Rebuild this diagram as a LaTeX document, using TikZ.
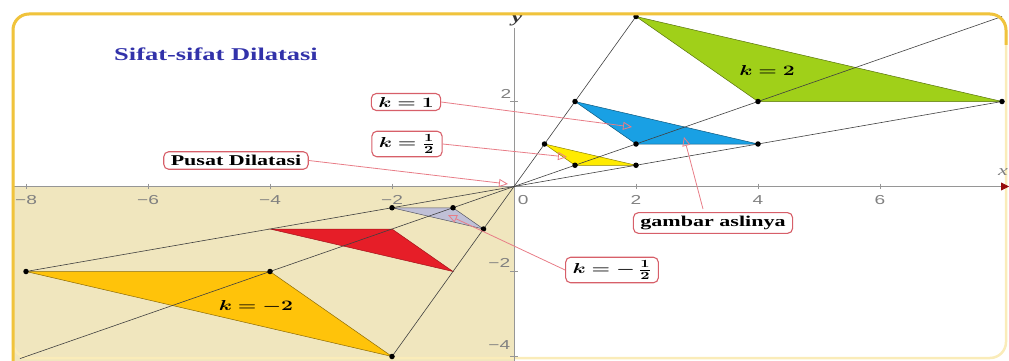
\documentclass[tikz,border=0pt]{standalone}
\usepackage{fontspec}
\setmainfont{Liberation Serif}
\setsansfont{Liberation Sans}
\usepackage{bm}
\usetikzlibrary{arrows.meta}
\newcommand{\hs}[1]{\scalebox{1.47}[1]{#1}}
\definecolor{goldc}{RGB}{240,195,60}
\definecolor{palegold}{RGB}{250,236,185}
\definecolor{tanc}{RGB}{240,230,190}
\definecolor{greenc}{RGB}{160,208,25}
\definecolor{bluec}{RGB}{25,160,228}
\definecolor{yellowc}{RGB}{255,235,0}
\definecolor{grayc}{RGB}{192,192,215}
\definecolor{redc}{RGB}{230,30,40}
\definecolor{orangec}{RGB}{255,195,10}
\definecolor{titlec}{RGB}{50,50,170}
\definecolor{pinkc}{RGB}{232,125,135}
\definecolor{boxc}{RGB}{215,95,105}
\definecolor{axisc}{RGB}{150,150,150}
\definecolor{darkredc}{RGB}{150,10,10}
\tikzset{
  callout/.style={draw=boxc, line width=1.1pt, rounded corners=5pt, fill=white,
    inner xsep=7pt, inner ysep=3.5pt, font=\fontsize{15}{17}\selectfont\bfseries},
  pointer/.style={draw=pinkc, line width=0.8pt,
    -{Triangle[open, length=9pt, width=8pt, color=pinkc]}},
  ray/.style={draw=black!75, line width=0.6pt},
  vdot/.style={circle, fill=black, inner sep=0pt, minimum size=5.5pt},
  tri/.style={line width=0.5pt},
  ticklab/.style={text=gray, font=\sffamily\fontsize{13}{13}\selectfont, inner sep=0pt},
  axtick/.style={draw=axisc, line width=0.6pt},
  mathlab/.style={font=\fontsize{15.5}{17}\selectfont, inner sep=0pt},
}
\begin{document}
\begin{tikzpicture}[x=1pt,y=-1pt]
\path[use as bounding box] (0,0) rectangle (1009,361);
% tan quadrant
\fill[tanc] (13,186.5) rectangle (514,361);
% frame (pale part)
\draw[palegold, line width=2.5pt, rounded corners=16pt] (13,14) rectangle (1006,358);
% axes
\draw[axisc, line width=0.8pt, -{Triangle[length=8pt, width=8pt, color=darkredc]}] (13,186.5) -- (1009,186.5);
\draw[axisc, line width=0.8pt] (514,361) -- (514,28);
\node[text=gray, font=\itshape\fontsize{15}{15}\selectfont] (xl) at (1003,172) {\hs{x}};
\node[text=black!80, font=\bfseries\itshape\fontsize{16}{16}\selectfont] (yl) at (517,21) {\hs{y}};
\begin{scope}[shift={(514pt,-186.5pt)}, x=61pt, y=42.5pt]
  % ticks
  \foreach \t in {-8,-6,-4,-2,2,4,6} {\draw[axtick] (\t,0.07) -- (\t,-0.07);}
  \foreach \t in {2,-2,-4} {\draw[axtick] (-0.06,\t) -- (0.06,\t);}
  \foreach \t/\s in {-8/−8,-6/−6,-4/−4,-2/−2,2/2,4/4,6/6} {\node[ticklab] (tx\t) at (\t,-0.32) {\hs{\s}};}
  \node[ticklab] (tx0) at (0.15,-0.32) {\hs{0}};
  \node[ticklab, anchor=east] (ty2) at (-0.04,2.18) {\hs{2}};
  \node[ticklab, anchor=east] (tym2) at (-0.06,-1.8) {\hs{−2}};
  \node[ticklab, anchor=east] (tym4) at (-0.06,-3.72) {\hs{−4}};
  % triangles
  \filldraw[tri, fill=greenc, draw=greenc!55!black] (2,4) -- (4,2) -- (8,2) -- cycle;
  \filldraw[tri, fill=bluec, draw=bluec!55!black] (1,2) -- (2,1) -- (4,1) -- cycle;
  \filldraw[tri, fill=yellowc, draw=yellowc!55!black] (0.5,1) -- (1,0.5) -- (2,0.5) -- cycle;
  \filldraw[tri, fill=grayc, draw=grayc!45!black] (-0.5,-1) -- (-1,-0.5) -- (-2,-0.5) -- cycle;
  \filldraw[tri, fill=redc, draw=redc!70!black] (-1,-2) -- (-2,-1) -- (-4,-1) -- cycle;
  \filldraw[tri, fill=orangec, draw=orangec!55!black] (-2,-4) -- (-4,-2) -- (-8,-2) -- cycle;
  % rays through the centre
  \coordinate (r1a) at (-2,-4); \coordinate (r1b) at (2,4);
  \coordinate (r2a) at (-8.1,-4.05); \coordinate (r2b) at (8,4);
  \coordinate (r3a) at (-8,-2); \coordinate (r3b) at (8,2);
  \draw[ray] (r1a) -- (r1b);
  \draw[ray] (r2a) -- (r2b);
  \draw[ray] (r3a) -- (r3b);
  % vertex dots
  \foreach \n/\p in {g1/{(2,4)},g2/{(4,2)},g3/{(8,2)},b1/{(1,2)},b2/{(2,1)},b3/{(4,1)},
     y1/{(0.5,1)},y2/{(1,0.5)},y3/{(2,0.5)},s1/{(-0.5,-1)},s2/{(-1,-0.5)},s3/{(-2,-0.5)},
     o1/{(-2,-4)},o2/{(-4,-2)},o3/{(-8,-2)}} {\node[vdot] (\n) at \p {};}
\end{scope}
% labels inside triangles
\node[mathlab] (k2) at (767,70) {\hs{$\bm{k=2}$}};
\node[mathlab] (km2) at (256,306) {\hs{$\bm{k=-2}$}};
% title
\node[text=titlec, font=\bfseries\fontsize{18}{20}\selectfont] (title) at (216,54) {\hs{Sifat-sifat Dilatasi}};
% callouts
\node[callout] (c1) at (406,102) {\hs{$\bm{k=1}$}};
\node[callout] (c2) at (407,144) {\hs{$\bm{k=\frac{1}{2}}$}};
\node[callout] (c3) at (236,160.5) {\hs{Pusat Dilatasi}};
\node[callout] (c4) at (713,223) {\hs{gambar aslinya}};
\node[callout] (c5) at (612,270) {\hs{$\bm{k=-\,\frac{1}{2}}$}};
\coordinate (t1) at (632,127);
\coordinate (t2) at (567,157);
\coordinate (t3) at (508,184);
\coordinate (t4) at (684,137);
\coordinate (t5) at (448,215);
\coordinate (s4) at (703,209);
\draw[pointer] (c1.east) -- (t1);
\draw[pointer] (c2.east) -- (t2);
\draw[pointer] (c3.east) -- (t3);
\draw[pointer] (s4) -- (t4);
\draw[pointer] (c5.west) -- (t5);
% frame (strong part)
\draw[goldc, line width=3pt, rounded corners=16pt] (13,361) -- (13,14) -- (1006,14) -- (1006,45);
\end{tikzpicture}
\end{document}
